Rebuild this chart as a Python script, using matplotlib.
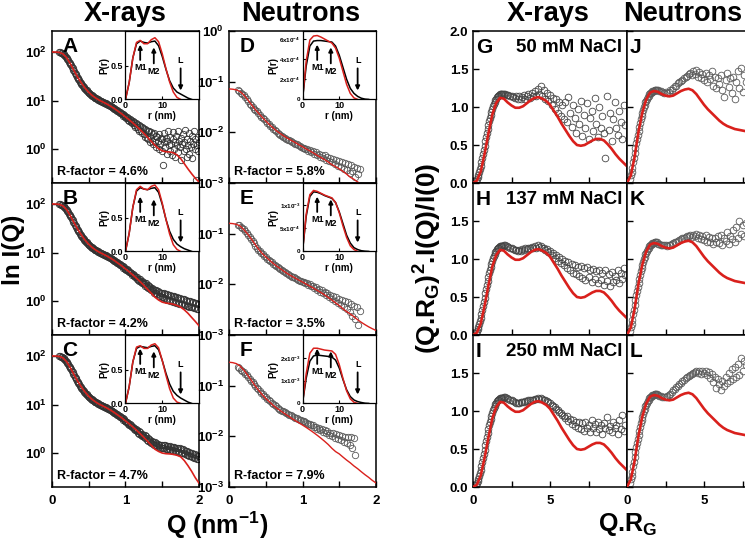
import matplotlib
matplotlib.use('Agg')
import matplotlib.pyplot as plt

plt.rcParams['font.family'] = ['Liberation Sans', 'DejaVu Sans']
plt.rcParams['font.weight'] = 'bold'
plt.rcParams['axes.labelweight'] = 'bold'
plt.rcParams['mathtext.fontset'] = 'custom'
plt.rcParams['mathtext.rm'] = 'Liberation Sans:bold'
plt.rcParams['mathtext.bf'] = 'Liberation Sans:bold'
plt.rcParams['mathtext.it'] = 'Liberation Sans:bold'
plt.rcParams['mathtext.default'] = 'bf'
plt.rcParams['axes.linewidth'] = 1.1

RED = '#d9201c'

# ---------------- X-ray SAXS curves (A, B, C) ----------------
q_xray = [0.10, 0.11, 0.12, 0.13, 0.14, 0.15, 0.16, 0.17, 0.18, 0.19,
          0.20, 0.21, 0.22, 0.23, 0.24, 0.25, 0.26, 0.27, 0.28, 0.29,
          0.30, 0.31, 0.32, 0.33, 0.34, 0.35, 0.36, 0.37, 0.38, 0.39,
          0.40, 0.41, 0.42, 0.43, 0.44, 0.45, 0.46, 0.47, 0.48, 0.49,
          0.50, 0.51, 0.52, 0.53, 0.54, 0.55, 0.56, 0.57, 0.58, 0.59,
          0.60, 0.61, 0.62, 0.63, 0.64, 0.65, 0.66, 0.67, 0.68, 0.69,
          0.70, 0.71, 0.72, 0.73, 0.74, 0.75, 0.76, 0.77, 0.78, 0.79,
          0.80, 0.81, 0.82, 0.83, 0.84, 0.85, 0.86, 0.87, 0.88, 0.89,
          0.90, 0.91, 0.92, 0.93, 0.94, 0.95, 0.96, 0.97, 0.98, 0.99,
          1.00, 1.01, 1.02, 1.03, 1.04, 1.05, 1.06, 1.07, 1.08, 1.09,
          1.10, 1.11, 1.12, 1.13, 1.14, 1.15, 1.16, 1.17, 1.18, 1.19,
          1.20, 1.21, 1.22, 1.23, 1.24, 1.25, 1.26, 1.27, 1.28, 1.29,
          1.30, 1.31, 1.32, 1.33, 1.34, 1.35, 1.36, 1.37, 1.38, 1.39,
          1.40, 1.41, 1.42, 1.43, 1.44, 1.45, 1.46, 1.47, 1.48, 1.49,
          1.50, 1.51, 1.52, 1.53, 1.54, 1.55, 1.56, 1.57, 1.58, 1.59,
          1.60, 1.61, 1.62, 1.63, 1.64, 1.65, 1.66, 1.67, 1.68, 1.69,
          1.70, 1.71, 1.72, 1.73, 1.74, 1.75, 1.76, 1.77, 1.78, 1.79,
          1.80, 1.81, 1.82, 1.83, 1.84, 1.85, 1.86, 1.87, 1.88, 1.89,
          1.90, 1.91, 1.92, 1.93, 1.94, 1.95, 1.96, 1.97, 1.98, 1.99,
          2.00]

# Q = 0.10 .. 0.99 (the three salt conditions overlap here)
i_xray_low = [98, 97.5, 97, 95.5, 94, 91.5, 89, 85.5, 82, 78.5,
              75, 71, 67, 63.5, 60, 56.5, 53, 49.5, 46, 43,
              40, 37.5, 35, 33, 31, 29.2, 27.5, 26, 24.5, 23.2,
              22, 21, 20, 19.1, 18.2, 17.4, 16.7, 16.1, 15.5, 15.0,
              14.5, 14.0, 13.6, 13.2, 12.8, 12.4, 12.1, 11.8, 11.5, 11.2,
              11.0, 10.8, 10.6, 10.4, 10.2, 10.0, 9.8, 9.65, 9.5, 9.35,
              9.2, 9.05, 8.9, 8.75, 8.6, 8.4, 8.2, 8.05, 7.9, 7.75,
              7.6, 7.45, 7.3, 7.15, 7.0, 6.8, 6.7, 6.45, 6.4, 6.1,
              6.1, 5.8, 5.8, 5.5, 5.55, 5.2, 5.3, 4.9, 5.05, 4.65]

# Q = 1.00 .. 2.00
i_a_hi = [4.7, 4.3, 4.6, 4.0, 4.3, 3.8, 4.1, 3.6, 3.9, 3.4,
          3.7, 3.2, 3.6, 2.9, 3.4, 2.8, 3.3, 2.6, 3.1, 2.4,
          3.0, 2.3, 2.9, 2.1, 2.7, 2.0, 2.6, 1.8, 2.5, 1.7,
          2.4, 1.6, 2.3, 1.9, 1.4, 2.2, 1.5, 2.0, 1.3, 2.1,
          1.4, 1.9, 1.1, 1.8, 1.5, 1.0, 2.0, 1.3, 1.7, 0.9,
          1.6, 0.47, 1.4, 2.1, 1.1, 1.7, 0.8, 1.5, 2.3, 1.2,
          0.9, 1.8, 1.3, 0.75, 1.6, 2.2, 1.0, 1.4, 0.7, 1.9,
          1.2, 2.4, 0.85, 1.5, 1.1, 0.6, 1.7, 1.3, 2.0, 0.9,
          1.4, 2.5, 1.0, 0.7, 1.6, 1.2, 2.1, 0.8, 1.5, 1.1,
          1.9, 0.65, 1.3, 2.3, 1.0, 1.6, 0.23, 1.2, 1.8, 0.9,
          1.4]
i_b_hi = [4.6, 4.4, 4.5, 4.1, 4.3, 3.9, 4.0, 3.7, 3.8, 3.5,
          3.6, 3.3, 3.4, 3.1, 3.2, 2.9, 3.1, 2.7, 2.9, 2.6,
          2.8, 2.5, 2.6, 2.3, 2.5, 2.2, 2.4, 2.05, 2.3, 1.95,
          2.1, 1.85, 2.0, 1.75, 1.95, 1.65, 1.85, 1.6, 1.75, 1.5,
          1.7, 1.45, 1.65, 1.4, 1.6, 1.3, 1.55, 1.25, 1.5, 1.2,
          1.5, 1.2, 1.45, 1.15, 1.4, 1.1, 1.38, 1.05, 1.35, 1.05,
          1.32, 1.0, 1.3, 0.98, 1.28, 0.95, 1.25, 0.95, 1.22, 0.92,
          1.2, 0.9, 1.18, 0.88, 1.15, 0.86, 1.12, 0.85, 1.1, 0.83,
          1.08, 0.82, 1.05, 0.8, 1.02, 0.78, 1.0, 0.76, 0.98, 0.75,
          0.96, 0.74, 0.94, 0.72, 0.92, 0.71, 0.9, 0.7, 0.88, 0.68,
          0.86]
i_c_hi = [4.6, 4.3, 4.4, 4.0, 4.2, 3.8, 3.9, 3.6, 3.7, 3.4,
          3.5, 3.2, 3.3, 3.0, 3.1, 2.8, 3.0, 2.6, 2.8, 2.5,
          2.7, 2.4, 2.5, 2.25, 2.4, 2.1, 2.3, 2.0, 2.2, 1.9,
          2.05, 1.8, 1.95, 1.7, 1.9, 1.6, 1.8, 1.55, 1.7, 1.5,
          1.65, 1.45, 1.6, 1.4, 1.55, 1.35, 1.5, 1.3, 1.5, 1.3,
          1.48, 1.28, 1.45, 1.25, 1.45, 1.22, 1.42, 1.2, 1.4, 1.2,
          1.38, 1.18, 1.36, 1.15, 1.35, 1.12, 1.33, 1.1, 1.3, 1.08,
          1.3, 1.06, 1.28, 1.05, 1.25, 1.02, 1.22, 1.0, 1.2, 0.98,
          1.15, 0.95, 1.12, 0.92, 1.1, 0.9, 1.05, 0.88, 1.02, 0.85,
          1.0, 0.82, 0.96, 0.8, 0.94, 0.78, 0.9, 0.76, 0.88, 0.75,
          0.85]

q_fit = [0.00, 0.05, 0.10, 0.15, 0.20, 0.25, 0.30, 0.35, 0.40, 0.45,
         0.50, 0.55, 0.60, 0.65, 0.70, 0.75, 0.80, 0.85, 0.90, 0.95,
         1.00, 1.05, 1.10, 1.15, 1.20, 1.25, 1.30, 1.35, 1.40, 1.45,
         1.50, 1.55, 1.60, 1.65, 1.70, 1.75, 1.80, 1.85, 1.90, 1.95, 2.00]

fit_a = [100, 99.5, 98, 91, 76, 57, 41, 30, 23, 18,
         14.8, 12.6, 11.1, 10.0, 9.2, 8.4, 7.6, 6.8, 6.0, 5.3,
         4.6, 4.0, 3.45, 2.95, 2.5, 2.1, 1.75, 1.45, 1.2, 1.02,
         0.92, 0.88, 0.87, 0.84, 0.76, 0.64, 0.5, 0.39, 0.31, 0.25, 0.21]
fit_b = [100, 99.5, 98, 91, 76, 57, 41, 30, 23, 18,
         14.8, 12.6, 11.1, 10.0, 9.2, 8.4, 7.6, 6.8, 6.0, 5.3,
         4.6, 4.0, 3.45, 2.95, 2.5, 2.1, 1.75, 1.45, 1.2, 1.05,
         0.95, 0.91, 0.89, 0.86, 0.81, 0.75, 0.66, 0.56, 0.46, 0.38, 0.31]
fit_c = [100, 99.5, 98, 91, 76, 57, 41, 30, 23, 18,
         14.8, 12.6, 11.1, 10.0, 9.2, 8.4, 7.6, 6.8, 6.0, 5.3,
         4.6, 4.0, 3.45, 2.95, 2.5, 2.1, 1.75, 1.45, 1.2, 1.08,
         1.0, 0.97, 0.96, 0.94, 0.9, 0.84, 0.7, 0.55, 0.42, 0.31, 0.24]

# ---------------- neutron SANS curves (D, E, F) ----------------
q_neut = [0.12, 0.14, 0.16, 0.18, 0.20, 0.22, 0.24, 0.26, 0.28, 0.30,
          0.32, 0.34, 0.36, 0.38, 0.40, 0.42, 0.44, 0.46, 0.48, 0.50,
          0.52, 0.54, 0.56, 0.58, 0.60, 0.62, 0.64, 0.66, 0.68, 0.70,
          0.72, 0.74, 0.76, 0.78, 0.80, 0.82, 0.84, 0.86, 0.88, 0.90,
          0.92, 0.94, 0.96, 0.98, 1.00, 1.02, 1.04, 1.06, 1.08, 1.10,
          1.12, 1.14, 1.16, 1.18, 1.20, 1.22, 1.24, 1.26, 1.28, 1.30,
          1.32, 1.34, 1.36, 1.38, 1.40, 1.42, 1.44, 1.46, 1.48, 1.50,
          1.52, 1.54, 1.56, 1.58, 1.60, 1.62, 1.64, 1.66, 1.68, 1.70,
          1.72, 1.74, 1.76, 1.78]

i_d = [0.068, 0.065, 0.061, 0.058, 0.054, 0.050, 0.045, 0.041, 0.037, 0.034,
       0.031, 0.029, 0.027, 0.026, 0.024, 0.022, 0.0205, 0.019, 0.018, 0.0168,
       0.0155, 0.0145, 0.0135, 0.0126, 0.0118, 0.011, 0.0104, 0.0098, 0.0093, 0.0089,
       0.0085, 0.0081, 0.0078, 0.0075, 0.0072, 0.0070, 0.0067, 0.0065, 0.0062, 0.0060,
       0.0058, 0.0056, 0.0054, 0.0052, 0.0050, 0.0050, 0.0046, 0.0047, 0.0043, 0.0045,
       0.0040, 0.0042, 0.0037, 0.0040, 0.0035, 0.0038, 0.0033, 0.0036, 0.0031, 0.0035,
       0.0029, 0.0033, 0.0027, 0.0031, 0.0026, 0.0030, 0.0024, 0.0029, 0.0022, 0.0027,
       0.0021, 0.0026, 0.0019, 0.0025, 0.0018, 0.0024, 0.0016, 0.0023, 0.0017, 0.0021,
       0.0013, 0.0020, 0.0015, 0.0019]
i_e = [0.150, 0.145, 0.138, 0.130, 0.122, 0.113, 0.104, 0.095, 0.086, 0.078,
       0.071, 0.064, 0.058, 0.053, 0.048, 0.045, 0.042, 0.039, 0.036, 0.034,
       0.032, 0.030, 0.0285, 0.027, 0.0255, 0.0242, 0.023, 0.022, 0.021, 0.020,
       0.019, 0.0181, 0.0173, 0.0166, 0.0159, 0.0153, 0.0147, 0.0142, 0.0137, 0.0132,
       0.0127, 0.0123, 0.0119, 0.0115, 0.0112, 0.0110, 0.0104, 0.0106, 0.0097, 0.0100,
       0.0091, 0.0093, 0.0084, 0.0087, 0.0078, 0.0082, 0.0072, 0.0076, 0.0066, 0.0071,
       0.0061, 0.0067, 0.0056, 0.0062, 0.0051, 0.0058, 0.0047, 0.0055, 0.0043, 0.0052,
       0.0039, 0.0049, 0.0036, 0.0046, 0.0032, 0.0044, 0.0029, 0.0041, 0.0024, 0.0038,
       0.0021, 0.0036, 0.0016, 0.0030]
i_f = [0.230, 0.220, 0.208, 0.196, 0.184, 0.172, 0.160, 0.148, 0.137, 0.126,
       0.116, 0.107, 0.099, 0.092, 0.085, 0.078, 0.073, 0.068, 0.063, 0.059,
       0.055, 0.052, 0.049, 0.046, 0.043, 0.041, 0.039, 0.037, 0.035, 0.0335,
       0.032, 0.031, 0.0298, 0.0287, 0.0277, 0.0268, 0.0259, 0.0251, 0.0243, 0.0235,
       0.0228, 0.0221, 0.0214, 0.0208, 0.0202, 0.0198, 0.0188, 0.0186, 0.0176, 0.0175,
       0.0164, 0.0165, 0.0153, 0.0155, 0.0142, 0.0146, 0.0132, 0.0138, 0.0123, 0.0131,
       0.0115, 0.0125, 0.0107, 0.0119, 0.0100, 0.0114, 0.0094, 0.0109, 0.0088, 0.0105,
       0.0083, 0.0101, 0.0078, 0.0098, 0.0073, 0.0095, 0.0066, 0.0099, 0.0060, 0.0092,
       0.0042]

fit_d = [0.072, 0.071, 0.069, 0.064, 0.055, 0.045, 0.036, 0.029, 0.024, 0.020,
         0.0168, 0.0142, 0.0122, 0.0106, 0.0094, 0.0084, 0.0076, 0.0069, 0.0063, 0.0057,
         0.0052, 0.0047, 0.0043, 0.0039, 0.0035, 0.0032, 0.0029, 0.0026, 0.0023, 0.0021,
         0.0019, 0.0017, 0.0015, 0.0013, 0.00118, 0.00105, 0.00094, 0.00084, 0.00075, 0.00067, 0.0006]
fit_e = [0.160, 0.158, 0.153, 0.142, 0.121, 0.100, 0.080, 0.063, 0.050, 0.041,
         0.035, 0.030, 0.026, 0.0228, 0.0203, 0.0180, 0.0161, 0.0146, 0.0133, 0.0121,
         0.0111, 0.0101, 0.0092, 0.0084, 0.0076, 0.0069, 0.0062, 0.0055, 0.0049, 0.0043,
         0.0038, 0.0033, 0.0029, 0.0026, 0.0023, 0.0020, 0.00178, 0.0016, 0.00145, 0.00133, 0.00123]
fit_f = [0.29, 0.285, 0.272, 0.245, 0.205, 0.165, 0.130, 0.102, 0.082, 0.067,
         0.056, 0.048, 0.041, 0.036, 0.032, 0.0285, 0.0255, 0.0228, 0.0205, 0.0185,
         0.0167, 0.0150, 0.0134, 0.0119, 0.0105, 0.0092, 0.0080, 0.0069, 0.0058, 0.0050,
         0.0045, 0.0039, 0.0034, 0.0030, 0.0026, 0.0023, 0.0020, 0.00175, 0.00155, 0.00135, 0.0012]

# ---------------- P(r) insets ----------------
r_pr = [0, 1, 2, 3, 4, 5, 6, 7, 8, 9, 10, 11, 12, 13, 14, 15, 16, 17, 18]

pr_a_exp = [0, 0.25, 0.62, 0.83, 0.87, 0.85, 0.84, 0.86, 0.87, 0.8, 0.64, 0.45, 0.28, 0.17, 0.11, 0.08, 0.05, 0.02, 0.0]
pr_a_mod = [0, 0.25, 0.62, 0.85, 0.88, 0.83, 0.83, 0.89, 0.92, 0.86, 0.68, 0.46, 0.26, 0.11, 0.03, 0.0]
pr_b_exp = [0, 0.27, 0.66, 0.9, 0.95, 0.93, 0.92, 0.94, 0.95, 0.88, 0.7, 0.48, 0.3, 0.18, 0.11, 0.07, 0.04, 0.02, 0.0]
pr_b_mod = [0, 0.27, 0.66, 0.92, 0.97, 0.93, 0.92, 0.97, 0.99, 0.92, 0.72, 0.48, 0.26, 0.1, 0.03, 0.0]
pr_c_exp = [0, 0.25, 0.62, 0.82, 0.85, 0.84, 0.83, 0.85, 0.86, 0.8, 0.64, 0.45, 0.29, 0.18, 0.12, 0.08, 0.05, 0.02, 0.0]
pr_c_mod = [0, 0.25, 0.62, 0.84, 0.86, 0.82, 0.82, 0.87, 0.89, 0.83, 0.64, 0.42, 0.22, 0.08, 0.02, 0.0]

pr_d_exp = [0, 3.3e-4, 5.3e-4, 5.8e-4, 5.85e-4, 5.85e-4, 5.8e-4, 5.75e-4, 5.7e-4, 5.3e-4, 4.4e-4, 3.2e-4, 2.0e-4, 1.1e-4, 0.6e-4, 0.3e-4, 0.12e-4, 0.03e-4, 0]
pr_d_mod = [0, 3.8e-4, 5.9e-4, 6.3e-4, 6.35e-4, 6.2e-4, 6.0e-4, 5.8e-4, 5.6e-4, 5.1e-4, 4.1e-4, 2.8e-4, 1.5e-4, 0.6e-4, 0.15e-4, 0]
pr_e_exp = [0, 0.75e-3, 1.18e-3, 1.28e-3, 1.27e-3, 1.24e-3, 1.2e-3, 1.17e-3, 1.14e-3, 1.05e-3, 0.85e-3, 0.6e-3, 0.35e-3, 0.18e-3, 0.08e-3, 0.04e-3, 0.015e-3, 0.005e-3, 0]
pr_e_mod = [0, 0.8e-3, 1.22e-3, 1.31e-3, 1.29e-3, 1.25e-3, 1.21e-3, 1.18e-3, 1.15e-3, 1.05e-3, 0.83e-3, 0.55e-3, 0.3e-3, 0.12e-3, 0.04e-3, 0]
pr_f_exp = [0, 1.1e-3, 1.85e-3, 2.08e-3, 2.12e-3, 2.1e-3, 2.08e-3, 2.06e-3, 2.03e-3, 1.9e-3, 1.55e-3, 1.05e-3, 0.6e-3, 0.3e-3, 0.15e-3, 0.08e-3, 0.04e-3, 0.01e-3, 0]
pr_f_mod = [0, 1.3e-3, 2.2e-3, 2.42e-3, 2.42e-3, 2.38e-3, 2.34e-3, 2.32e-3, 2.3e-3, 2.15e-3, 1.7e-3, 1.1e-3, 0.55e-3, 0.2e-3, 0.05e-3, 0]

# ---------------- dimensionless Kratky plots ----------------
# rising part, Q.Rg = 0.20 .. 1.95
x_rise = [0.20, 0.25, 0.30, 0.35, 0.40, 0.45, 0.50, 0.55, 0.60, 0.65,
          0.70, 0.75, 0.80, 0.85, 0.90, 0.95, 1.00, 1.05, 1.10, 1.15,
          1.20, 1.25, 1.30, 1.35, 1.40, 1.45, 1.50, 1.55, 1.60, 1.65,
          1.70, 1.75, 1.80, 1.85, 1.90, 1.95]
k_rise_xray = [0.03, 0.05, 0.08, 0.10, 0.14, 0.18, 0.22, 0.27, 0.33, 0.38,
               0.44, 0.49, 0.55, 0.60, 0.66, 0.71, 0.76, 0.81, 0.86, 0.90,
               0.94, 0.98, 1.01, 1.04, 1.07, 1.09, 1.11, 1.13, 1.14, 1.15,
               1.16, 1.165, 1.17, 1.17, 1.175, 1.175]
k_rise_neut = [0.05, 0.10, 0.15, 0.20, 0.27, 0.33, 0.40, 0.46, 0.52, 0.58,
               0.63, 0.69, 0.74, 0.79, 0.84, 0.88, 0.92, 0.96, 1.00, 1.03,
               1.06, 1.08, 1.11, 1.13, 1.15, 1.165, 1.18, 1.19, 1.20, 1.205,
               1.21, 1.215, 1.22, 1.22, 1.22, 1.22]

# Q.Rg = 2.0 .. 9.9
x_hi = [2.0, 2.1, 2.2, 2.3, 2.4, 2.5, 2.6, 2.7, 2.8, 2.9,
        3.0, 3.1, 3.2, 3.3, 3.4, 3.5, 3.6, 3.7, 3.8, 3.9,
        4.0, 4.1, 4.2, 4.3, 4.4, 4.5, 4.6, 4.7, 4.8, 4.9,
        5.0, 5.1, 5.2, 5.3, 5.4, 5.5, 5.6, 5.7, 5.8, 5.9,
        6.0, 6.1, 6.2, 6.3, 6.4, 6.5, 6.6, 6.7, 6.8, 6.9,
        7.0, 7.1, 7.2, 7.3, 7.4, 7.5, 7.6, 7.7, 7.8, 7.9,
        8.0, 8.1, 8.2, 8.3, 8.4, 8.5, 8.6, 8.7, 8.8, 8.9,
        9.0, 9.1, 9.2, 9.3, 9.4, 9.5, 9.6, 9.7, 9.8, 9.9]

k_g_hi = [1.17, 1.17, 1.16, 1.16, 1.15, 1.14, 1.13, 1.12, 1.14, 1.11,
          1.15, 1.10, 1.13, 1.16, 1.11, 1.14, 1.17, 1.12, 1.19, 1.15,
          1.21, 1.14, 1.24, 1.17, 1.27, 1.15, 1.22, 1.10, 1.19, 1.08,
          1.16, 1.03, 1.12, 0.97, 1.10, 0.92, 1.06, 0.88, 1.02, 0.84,
          1.07, 0.80, 1.13, 0.92, 0.74, 1.02, 0.86, 0.66, 0.98, 0.78,
          1.08, 0.62, 0.90, 0.72, 1.05, 0.58, 0.86, 0.95, 0.68, 1.12,
          0.78, 0.60, 1.00, 0.73, 0.88, 0.66, 0.33, 1.15, 0.70, 0.92,
          0.55, 0.84, 1.06, 0.72, 0.63, 0.95, 0.80, 0.58, 1.02, 0.76]
k_h_hi = [1.18, 1.18, 1.17, 1.16, 1.15, 1.14, 1.13, 1.12, 1.12, 1.11,
          1.12, 1.11, 1.13, 1.12, 1.14, 1.13, 1.15, 1.14, 1.16, 1.15,
          1.17, 1.15, 1.18, 1.16, 1.17, 1.14, 1.15, 1.12, 1.13, 1.09,
          1.10, 1.05, 1.08, 1.01, 1.05, 0.98, 1.03, 0.95, 1.00, 0.92,
          0.98, 0.88, 0.96, 0.85, 0.94, 0.82, 0.92, 0.80, 0.90, 0.77,
          0.91, 0.75, 0.88, 0.73, 0.90, 0.76, 0.85, 0.70, 0.87, 0.74,
          0.84, 0.68, 0.86, 0.73, 0.81, 0.66, 0.85, 0.71, 0.80, 0.64,
          0.83, 0.70, 0.78, 0.72, 0.86, 0.68, 0.82, 0.74, 0.88, 0.79]
k_i_hi = [1.18, 1.18, 1.17, 1.16, 1.15, 1.14, 1.13, 1.12, 1.11, 1.11,
          1.11, 1.12, 1.12, 1.12, 1.13, 1.13, 1.14, 1.14, 1.15, 1.15,
          1.16, 1.16, 1.17, 1.16, 1.17, 1.16, 1.15, 1.14, 1.13, 1.12,
          1.10, 1.08, 1.07, 1.05, 1.03, 1.01, 0.99, 0.97, 0.95, 0.93,
          0.91, 0.94, 0.87, 0.90, 0.83, 0.88, 0.80, 0.86, 0.78, 0.85,
          0.76, 0.84, 0.74, 0.86, 0.77, 0.82, 0.72, 0.88, 0.78, 0.83,
          0.73, 0.86, 0.76, 0.81, 0.70, 0.84, 0.77, 0.92, 0.75, 0.80,
          0.72, 0.85, 0.78, 0.82, 0.70, 0.88, 0.76, 0.95, 0.74, 0.81]

# neutrons, Q.Rg = 2.0 .. 7.7
k_j_hi = [1.22, 1.21, 1.21, 1.20, 1.19, 1.20, 1.19, 1.20, 1.22, 1.23,
          1.25, 1.27, 1.28, 1.31, 1.33, 1.34, 1.36, 1.38, 1.40, 1.41,
          1.43, 1.45, 1.42, 1.47, 1.44, 1.49, 1.40, 1.46, 1.38, 1.44,
          1.36, 1.45, 1.33, 1.42, 1.37, 1.47, 1.28, 1.40, 1.25, 1.38,
          1.30, 1.42, 1.22, 1.13, 1.35, 1.45, 1.26, 1.38, 1.19, 1.40,
          1.10, 1.33, 1.48, 1.25, 1.51, 1.20, 1.42, 1.33]
k_k_hi = [1.20, 1.20, 1.19, 1.19, 1.18, 1.18, 1.17, 1.18, 1.19, 1.20,
          1.21, 1.22, 1.23, 1.24, 1.25, 1.26, 1.27, 1.28, 1.29, 1.30,
          1.30, 1.31, 1.29, 1.32, 1.30, 1.33, 1.27, 1.31, 1.26, 1.30,
          1.25, 1.31, 1.23, 1.29, 1.22, 1.28, 1.20, 1.27, 1.22, 1.30,
          1.21, 1.32, 1.18, 1.28, 1.24, 1.35, 1.20, 1.30, 1.26, 1.38,
          1.22, 1.42, 1.27, 1.50, 1.33, 1.45, 1.30, 1.48]
k_l_hi = [1.21, 1.20, 1.20, 1.19, 1.19, 1.19, 1.20, 1.21, 1.23, 1.25,
          1.27, 1.29, 1.31, 1.33, 1.35, 1.37, 1.39, 1.41, 1.43, 1.45,
          1.46, 1.48, 1.49, 1.50, 1.51, 1.52, 1.50, 1.53, 1.49, 1.52,
          1.50, 1.53, 1.47, 1.51, 1.44, 1.49, 1.38, 1.45, 1.30, 1.42,
          1.35, 1.28, 1.40, 1.33, 1.45, 1.37, 1.50, 1.40, 1.55, 1.42,
          1.58, 1.45, 1.62, 1.48, 1.70, 1.52, 1.66, 1.60]

x_kfit = [0.0, 0.25, 0.5, 0.75, 1.0, 1.25, 1.5, 1.75, 2.0, 2.25,
          2.5, 2.75, 3.0, 3.25, 3.5, 3.75, 4.0, 4.25, 4.5, 4.75,
          5.0, 5.25, 5.5, 5.75, 6.0, 6.25, 6.5, 6.75, 7.0, 7.25,
          7.5, 7.75, 8.0, 8.25, 8.5, 8.75, 9.0, 9.25, 9.5, 9.75, 10.0]
kfit_xray = [0.0, 0.03, 0.15, 0.38, 0.65, 0.9, 1.05, 1.12, 1.11, 1.06,
             1.02, 0.99, 0.99, 1.01, 1.05, 1.09, 1.12, 1.13, 1.11, 1.08,
             1.03, 0.95, 0.87, 0.78, 0.70, 0.62, 0.55, 0.50, 0.49, 0.50,
             0.53, 0.56, 0.58, 0.58, 0.56, 0.51, 0.45, 0.38, 0.32, 0.27, 0.22]
kfit_neut = [0.0, 0.1, 0.35, 0.68, 0.93, 1.1, 1.19, 1.21, 1.2, 1.17,
             1.15, 1.14, 1.15, 1.18, 1.21, 1.23, 1.24, 1.22, 1.17, 1.1,
             1.03, 0.97, 0.92, 0.87, 0.82, 0.78, 0.75, 0.73, 0.71, 0.70,
             0.69, 0.68, 0.67]

letters_x = ['A', 'B', 'C']
letters_n = ['D', 'E', 'F']
letters_kx = ['G', 'H', 'I']
letters_kn = ['J', 'K', 'L']
rfac_x = ['4.6%', '4.2%', '4.7%']
rfac_n = ['5.8%', '3.5%', '7.9%']
salts = ['50 mM NaCl', '137 mM NaCl', '250 mM NaCl']

W, H = 745, 547
fig = plt.figure(figsize=(W / 100, H / 100), dpi=100)


def px_rect(x0, x1, y0, y1):
    return [x0 / W, 1 - y1 / H, (x1 - x0) / W, (y1 - y0) / H]


rows = [(31, 183), (183, 335), (335, 487)]


def style_ticks(ax):
    ax.tick_params(direction='in', length=4, width=1, labelsize=9.5)
    ax.tick_params(axis='x', pad=6)


def add_inset(ax, pexp, pmod, top, yt, ytl, yfs):
    ins = ax.inset_axes([0.5, 0.55, 0.5, 0.45])
    ins.plot(r_pr, pexp, color='k', lw=1.1)
    ins.plot(r_pr[:len(pmod)], pmod, color=RED, lw=1.1)
    ins.set_xlim(0, 20)
    ins.set_ylim(0, top)
    ins.set_xticks([0, 10])
    ins.set_yticks(yt)
    ins.set_yticklabels(ytl, fontsize=yfs)
    ins.tick_params(direction='in', length=2.5, width=0.8, pad=1.5)
    ins.tick_params(axis='x', labelsize=6.5)
    ins.set_xlabel('r (nm)', fontsize=7, labelpad=0.5)
    ins.set_ylabel('P(r)', fontsize=7, labelpad=1)
    for sp in ins.spines.values():
        sp.set_linewidth(0.9)
    co = ('data', 'axes fraction')
    ap = dict(arrowstyle='-|>', color='k', lw=1.3, mutation_scale=6,
              shrinkA=0.5, shrinkB=0)
    ins.annotate('M1', xy=(4, 0.80), xytext=(4, 0.46), xycoords=co, textcoords=co,
                 ha='center', va='center', fontsize=6.5, arrowprops=ap)
    ins.annotate('M2', xy=(7.7, 0.76), xytext=(7.7, 0.41), xycoords=co, textcoords=co,
                 ha='center', va='center', fontsize=6.5, arrowprops=ap)
    ins.annotate('L', xy=(15, 0.13), xytext=(15, 0.57), xycoords=co, textcoords=co,
                 ha='center', va='center', fontsize=6.5, arrowprops=ap)


# X-ray log panels
pr_x = [(pr_a_exp, pr_a_mod), (pr_b_exp, pr_b_mod), (pr_c_exp, pr_c_mod)]
for k, (hi, fit) in enumerate([(i_a_hi, fit_a), (i_b_hi, fit_b), (i_c_hi, fit_c)]):
    ax = fig.add_axes(px_rect(52, 199, *rows[k]))
    ax.plot(q_xray, i_xray_low + hi, 'o', mfc='none', mec='#333333', mew=0.6, ms=4.6, zorder=2)
    ax.plot(q_fit, fit, color=RED, lw=1.2, zorder=3)
    ax.set_yscale('log')
    ax.set_xlim(0, 2)
    ax.set_ylim(0.2, 270)
    ax.set_yticks([1, 10, 100], ['$10^{0}$', '$10^{1}$', '$10^{2}$'])
    ax.minorticks_off()
    ax.set_xticks([0, 0.5, 1, 1.5, 2])
    ax.set_xticklabels(['0', '', '1', '', '2'] if k == 2 else [''] * 5)
    style_ticks(ax)
    ax.text(0.07, 0.9, letters_x[k], transform=ax.transAxes, fontsize=15, va='center')
    ax.text(0.035, 0.07, 'R-factor = ' + rfac_x[k], transform=ax.transAxes,
            fontsize=9, va='center')
    add_inset(ax, pr_x[k][0], pr_x[k][1], 1.02, [0, 0.5], ['0.0', '0.5'], 6.5)

# neutron log panels
pr_n = [(pr_d_exp, pr_d_mod, 6.8e-4, [0, 2e-4, 4e-4, 6e-4],
         ['0', '2x10$^{-4}$', '4x10$^{-4}$', '6x10$^{-4}$']),
        (pr_e_exp, pr_e_mod, 1.47e-3, [0, 5e-4, 1e-3],
         ['0', '5x10$^{-4}$', '1x10$^{-3}$']),
        (pr_f_exp, pr_f_mod, 3.0e-3, [0, 1e-3, 2e-3],
         ['0', '1x10$^{-3}$', '2x10$^{-3}$'])]
for k, (data, fit) in enumerate([(i_d, fit_d), (i_e, fit_e), (i_f, fit_f)]):
    ax = fig.add_axes(px_rect(229, 376, *rows[k]))
    ax.plot(q_neut[:len(data)], data, 'o', mfc='none', mec='#5a5a5a', mew=0.6, ms=4.6, zorder=2)
    ax.plot(q_fit, fit, color=RED, lw=1.0, zorder=3)
    ax.set_yscale('log')
    ax.set_xlim(0, 2)
    ax.set_ylim(1e-3, 1)
    ax.set_yticks([1e-3, 1e-2, 1e-1, 1],
                  ['$10^{-3}$', '$10^{-2}$', '$10^{-1}$', '$10^{0}$' if k == 0 else ''])
    ax.minorticks_off()
    ax.set_xticks([0, 0.5, 1, 1.5, 2])
    ax.set_xticklabels(['0', '', '1', '', '2'] if k == 2 else [''] * 5)
    style_ticks(ax)
    ax.text(0.07, 0.9, letters_n[k], transform=ax.transAxes, fontsize=15, va='center')
    ax.text(0.035, 0.07, 'R-factor = ' + rfac_n[k], transform=ax.transAxes,
            fontsize=9, va='center')
    p = pr_n[k]
    add_inset(ax, p[0], p[1], p[2], p[3], p[4], 4.5)

# Kratky panels, X-rays
for k, hi in enumerate([k_g_hi, k_h_hi, k_i_hi]):
    ax = fig.add_axes(px_rect(473, 627, *rows[k]))
    ax.plot(x_rise + x_hi, k_rise_xray + hi, 'o', mfc='none', mec='#444444',
            mew=0.6, ms=4.8, zorder=2)
    ax.plot(x_kfit, kfit_xray, color=RED, lw=1.9, zorder=3)
    ax.set_xlim(0, 10)
    ax.set_ylim(0, 2)
    ax.set_yticks([0, 0.5, 1, 1.5, 2],
                  ['0.0', '0.5', '1.0', '1.5', '2.0' if k == 0 else ''])
    ax.set_xticks([0, 2.5, 5, 7.5, 10])
    ax.set_xticklabels(['0', '', '5', '', ''] if k == 2 else [''] * 5)
    style_ticks(ax)
    ax.text(0.02, 0.89, letters_kx[k], transform=ax.transAxes, fontsize=15, va='center')
    ax.text(0.97, 0.89, salts[k], transform=ax.transAxes, fontsize=13.5,
            va='center', ha='right')

# Kratky panels, neutrons (cut by the right edge of the figure)
for k, hi in enumerate([k_j_hi, k_k_hi, k_l_hi]):
    ax = fig.add_axes(px_rect(627, 781, *rows[k]))
    ax.plot(x_rise + x_hi[:len(hi)], k_rise_neut + hi, 'o', mfc='none', mec='#5a5a5a',
            mew=0.6, ms=4.8, zorder=2)
    ax.plot(x_kfit[:len(kfit_neut)], kfit_neut, color=RED, lw=1.9, zorder=3)
    ax.set_xlim(0, 10)
    ax.set_ylim(0, 2)
    ax.set_yticks([0, 0.5, 1, 1.5, 2], [''] * 5)
    ax.set_xticks([0, 2.5, 5, 7.5, 10])
    ax.set_xticklabels(['0', '', '5', '', ''] if k == 2 else [''] * 5)
    style_ticks(ax)
    ax.text(0.02, 0.89, letters_kn[k], transform=ax.transAxes, fontsize=15, va='center')

# titles and axis labels
ty = 1 - 14 / H
fig.text(125 / W, ty, 'X-rays', fontsize=19.5, ha='center', va='center')
fig.text(301 / W, ty, 'Neutrons', fontsize=19.5, ha='center', va='center')
fig.text(548 / W, ty, 'X-rays', fontsize=19.5, ha='center', va='center')
fig.text(683 / W, ty, 'Neutrons', fontsize=19.5, ha='center', va='center')
fig.text(14 / W, 1 - 250 / H, 'ln I(Q)', rotation=90, fontsize=17.5,
         ha='center', va='center')
fig.text(217 / W, 1 - 525 / H, 'Q (nm$^{-1}$)', fontsize=18, ha='center', va='center')
fig.text(428 / W, 1 - 258 / H, '(Q.R$_G$)$^2$.I(Q)/I(0)', rotation=90, fontsize=19,
         ha='center', va='center')
fig.text(628 / W, 1 - 525 / H, 'Q.R$_G$', fontsize=18, ha='center', va='center')

fig.savefig('out.png', dpi=100)
